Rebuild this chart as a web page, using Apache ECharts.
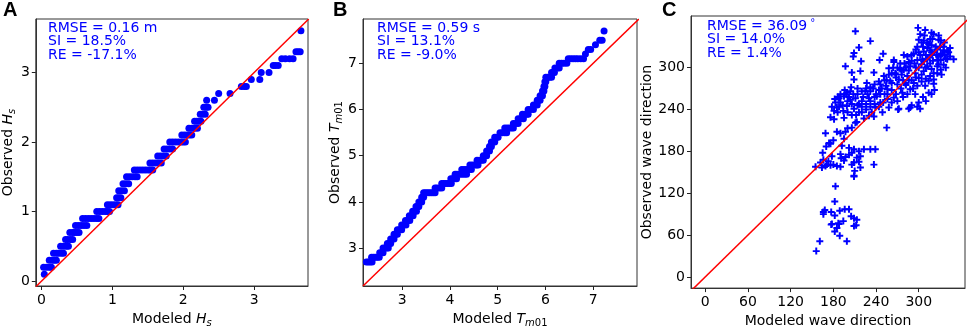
<!DOCTYPE html>
<html>
<head>
<meta charset="utf-8">
<script src="https://cdn.jsdelivr.net/npm/echarts@6/dist/echarts.min.js"></script>
<style>
  html, body { margin: 0; padding: 0; background: #fff; }
  #chart { width: 969px; height: 333px; }
</style>
</head>
<body>
<div id="chart"></div>
<script>
// panel A: Hs quantile pairs, observed levels and the modeled values at each level
const hsObserved = [0.1, 0.2, 0.3, 0.4, 0.5, 0.6, 0.7, 0.8, 0.9, 1.0, 1.1, 1.2, 1.3, 1.4, 1.5, 1.6, 1.7,
  1.8, 1.9, 2.0, 2.1, 2.2, 2.3, 2.4, 2.5, 2.6, 2.7, 2.8, 2.9, 3.0, 3.1, 3.2, 3.3, 3.6];
const hsModeled = [
  [0.04], [0.03, 0.07, 0.11, 0.14], [0.11, 0.15, 0.18, 0.21], [0.17, 0.21, 0.24, 0.28, 0.31],
  [0.27, 0.31, 0.35, 0.38], [0.34, 0.37, 0.41, 0.44], [0.40, 0.44, 0.47, 0.50, 0.53],
  [0.48, 0.52, 0.56, 0.60, 0.64], [0.58, 0.62, 0.66, 0.70, 0.74, 0.78, 0.81],
  [0.78, 0.82, 0.86, 0.90, 0.93, 0.96], [0.93, 0.97, 1.01, 1.05, 1.08], [1.06, 1.09, 1.12],
  [1.09, 1.13, 1.17], [1.15, 1.19, 1.23], [1.20, 1.24, 1.28, 1.32, 1.35],
  [1.31, 1.35, 1.39, 1.43, 1.47, 1.51, 1.54, 1.57], [1.53, 1.57, 1.61, 1.65, 1.69],
  [1.64, 1.68, 1.72, 1.76], [1.73, 1.77, 1.81, 1.85], [1.81, 1.85, 1.89, 1.93, 1.97, 2.00, 2.03],
  [1.98, 2.02, 2.06, 2.09, 2.12], [2.08, 2.12, 2.16, 2.20], [2.16, 2.19, 2.22, 2.25],
  [2.24, 2.27, 2.31], [2.29, 2.32, 2.35], [2.33, 2.44], [2.50, 2.66], [2.82, 2.86, 2.89],
  [2.96, 3.08], [3.10, 3.21], [3.27, 3.30, 3.34], [3.39, 3.44, 3.50, 3.55], [3.59, 3.62, 3.65], [3.66]
];

// panel B: Tm01 quantile pairs
const tmObserved = [2.7, 2.8, 2.9, 3.0, 3.1, 3.2, 3.3, 3.4, 3.5, 3.6, 3.7, 3.8, 3.9, 4.0, 4.1, 4.2, 4.3,
  4.4, 4.5, 4.6, 4.7, 4.8, 4.9, 5.0, 5.1, 5.2, 5.3, 5.4, 5.5, 5.6, 5.7, 5.8, 5.9, 6.0, 6.1, 6.2, 6.3,
  6.4, 6.5, 6.6, 6.7, 6.8, 6.9, 7.0, 7.1, 7.2, 7.3, 7.4, 7.5, 7.7];
const tmModeled = [
  [2.25, 2.29, 2.33, 2.37], [2.36, 2.40, 2.44, 2.48, 2.52], [2.53, 2.57, 2.60], [2.60, 2.64, 2.68, 2.71],
  [2.69, 2.73, 2.76], [2.76, 2.80, 2.83], [2.83, 2.87, 2.90], [2.90, 2.94, 2.99], [2.99, 3.03, 3.08],
  [3.07, 3.12, 3.16], [3.15, 3.19, 3.23], [3.22, 3.26, 3.30], [3.29, 3.33, 3.35], [3.35, 3.38, 3.41],
  [3.41, 3.45], [3.45, 3.49, 3.53, 3.57, 3.61, 3.65, 3.69], [3.69, 3.73, 3.78, 3.83],
  [3.83, 3.87, 3.91, 3.95, 3.99, 4.03], [4.02, 4.06, 4.10, 4.14], [4.11, 4.15, 4.20, 4.25, 4.30, 4.35],
  [4.25, 4.30, 4.35, 4.40, 4.45], [4.42, 4.47, 4.52, 4.56, 4.59], [4.57, 4.62, 4.66, 4.70],
  [4.70, 4.74, 4.77], [4.77, 4.80, 4.83], [4.83, 4.85, 4.87], [4.87, 4.91, 4.94], [4.94, 4.98, 5.01],
  [5.05, 5.10, 5.15, 5.19], [5.15, 5.20, 5.25, 5.29, 5.33], [5.33, 5.38, 5.43], [5.43, 5.48, 5.54],
  [5.52, 5.57, 5.61, 5.64], [5.64, 5.69, 5.75], [5.75, 5.79, 5.83], [5.83, 5.86, 5.89], [5.89, 5.92, 5.94],
  [5.94, 5.97], [5.97, 5.99], [5.99, 6.01], [6.01, 6.05, 6.09, 6.13], [6.13, 6.16, 6.19],
  [6.20, 6.25, 6.29], [6.29, 6.34, 6.39, 6.45], [6.48, 6.53, 6.58, 6.63, 6.68, 6.74, 6.80],
  [6.84], [6.90, 6.95], [7.05], [7.14, 7.19], [7.23]
];

// panel C: wave direction pairs [modeled, observed] in degrees
const dirPairs = [
  [209, 144], [183, 130], [182, 108], [168, 96], [166, 90], [166, 93], [177, 93], [182, 88], [189, 95],
  [196, 97], [202, 97], [205, 87], [209, 84], [213, 82], [212, 74], [209, 73], [194, 80], [187, 77],
  [178, 76], [185, 70], [182, 65], [189, 59], [161, 51], [199, 51], [156, 37], [177, 75], [188, 76],
  [155, 158], [162, 164], [166, 168], [171, 161], [176, 160], [169, 159], [180, 161], [185, 159],
  [190, 158], [164, 157], [173, 166], [178, 173], [170, 187], [176, 191], [180, 196], [185, 208],
  [197, 208], [195, 198], [190, 176], [191, 170], [195, 167], [202, 185], [209, 183], [216, 180],
  [223, 183], [232, 183], [239, 183], [206, 178], [213, 171], [202, 175], [216, 165], [209, 164],
  [218, 157], [210, 152], [209, 145], [237, 161], [206, 161], [218, 173], [197, 172], [192, 188],
  [206, 214], [211, 221], [255, 214], [271, 240], [237, 230], [286, 241], [298, 244],
  [169, 206], [174, 192], [165, 178], [190, 206], [200, 213], [213, 222],
  [211, 352], [232, 338], [216, 329], [209, 321], [208, 316], [219, 309], [197, 302], [206, 293],
  [218, 295], [209, 283], [237, 293], [250, 320], [245, 311], [227, 278], [232, 266], [225, 266],
  [204, 266], [199, 264], [195, 259], [190, 250], [183, 250], [181, 238], [176, 229], [181, 226],
  [195, 228], [186, 236], [209, 241], [216, 236], [220, 252], [211, 256], [204, 254], [216, 248],
  [199, 245], [185, 243],
  [299, 357], [309, 354], [302, 348], [319, 341], [331, 339], [307, 339], [314, 334], [298, 330],
  [324, 330], [335, 325], [293, 320], [307, 323], [319, 318], [331, 320], [338, 313], [349, 312],
  [326, 311], [316, 306], [307, 309], [298, 311], [284, 316], [274, 306], [265, 311], [279, 297],
  [288, 302], [267, 292], [258, 299], [251, 288], [260, 281], [246, 276], [272, 283], [284, 288],
  [295, 292], [307, 295], [321, 292], [321, 283], [331, 297], [335, 304], [314, 281], [309, 274],
  [321, 277], [314, 264], [295, 262], [300, 250], [288, 243], [302, 241], [272, 241], [288, 269],
  [277, 264], [265, 257], [256, 255], [246, 250], [239, 243], [234, 236], [223, 227], [230, 231],
  [249, 236], [258, 243], [241, 259], [256, 269], [270, 276], [281, 278], [293, 278], [300, 285],
  [321, 348], [335, 330], [340, 323], [331, 311], [312, 302],
  [228, 262], [236, 270], [244, 268], [252, 262], [262, 268], [268, 262], [275, 270], [282, 275],
  [290, 282], [296, 300], [304, 305], [310, 318], [316, 325], [322, 322], [328, 316], [312, 312],
  [302, 318], [290, 310], [282, 300], [276, 290], [268, 286], [262, 292], [255, 282], [248, 270],
  [240, 262], [232, 252], [226, 248], [220, 244], [214, 246], [206, 248], [200, 252], [193, 246],
  [188, 256], [196, 268], [205, 272], [214, 262], [222, 258], [230, 256], [238, 258], [246, 262],
  [254, 274], [262, 278], [268, 290], [276, 296], [286, 296], [294, 306], [300, 322], [306, 330],
  [312, 336], [318, 332], [326, 326], [330, 330], [336, 318], [342, 322], [344, 316], [326, 302],
  [318, 298], [304, 290], [296, 286], [286, 282], [278, 282], [290, 246], [310, 252], [318, 262],
  [322, 268], [306, 258], [333, 320], [316, 341], [328, 340], [265, 308], [279, 318],
  [300, 300], [305, 312], [310, 300], [315, 315], [320, 310], [325, 318], [328, 305], [318, 322],
  [312, 328], [304, 336], [296, 326], [290, 318], [286, 308], [280, 306], [274, 298], [270, 300],
  [264, 300], [258, 290], [252, 282], [244, 280], [238, 276], [232, 272], [226, 270], [220, 266],
  [214, 270], [208, 262], [202, 258], [196, 262], [190, 262], [186, 258], [182, 255], [178, 244],
  [188, 244], [194, 238], [200, 236], [206, 232], [212, 232], [220, 236], [226, 240], [232, 244],
  [238, 248], [244, 244], [250, 250], [256, 262], [262, 250], [270, 252], [278, 258], [284, 262],
  [292, 270], [298, 274], [304, 280], [310, 284], [316, 288], [326, 292], [332, 290], [338, 300],
  [340, 312], [344, 328], [336, 336], [328, 346], [318, 350], [308, 346], [300, 340]
];

const hsTicks = [0, 1, 2, 3];
const tmTicks = [3, 4, 5, 6, 7];
const dirTicks = [0, 60, 120, 180, 240, 300];

const statsA = ['RMSE = 0.16 m', 'SI = 18.5%', 'RE = -17.1%'];
const statsB = ['RMSE = 0.59 s', 'SI = 13.1%', 'RE = -9.0%'];
const statsC = ['RMSE = 36.09{d|°}', 'SI = 14.0%', 'RE = 1.4%'];

const FONT = 'DejaVu Sans';
const BLUE = '#0000ff';
const RED = '#ff0000';

function flatten(levels, values) {
  const out = [];
  levels.forEach((y, i) => values[i].forEach(x => out.push([x, y])));
  return out;
}

const nameStyle = {
  fontFamily: FONT, fontSize: 14, color: '#000',
  rich: {
    i: { fontFamily: FONT, fontSize: 14, fontStyle: 'italic', color: '#000' },
    s: { fontFamily: FONT, fontSize: 10, fontStyle: 'italic', color: '#000', padding: [8, 0, 0, 0] },
    n: { fontFamily: FONT, fontSize: 10, color: '#000', padding: [8, 0, 0, 0] }
  }
};

function xAxisOf(grid, min, max, ticks, name) {
  return {
    type: 'value', gridIndex: grid, min: min, max: max,
    name: name, nameLocation: 'middle', nameGap: 24, nameTextStyle: nameStyle,
    axisLine: { show: true, onZero: false, lineStyle: { color: '#333' } },
    axisTick: { show: true, length: 4, lineStyle: { color: '#222' }, customValues: ticks },
    axisLabel: { fontFamily: FONT, fontSize: 14, color: '#000', margin: 7, customValues: ticks },
    splitLine: { show: false }
  };
}

function yAxisOf(grid, min, max, ticks, name, gap) {
  return {
    type: 'value', gridIndex: grid, min: min, max: max,
    name: name, nameLocation: 'middle', nameRotate: 90, nameGap: gap, nameTextStyle: nameStyle,
    axisLine: { show: true, onZero: false, lineStyle: { color: '#333' } },
    axisTick: { show: true, length: 4, lineStyle: { color: '#222' }, customValues: ticks },
    axisLabel: { fontFamily: FONT, fontSize: 14, color: '#000', margin: 6, customValues: ticks },
    splitLine: { show: false }
  };
}

function oneToOne(idx, lo, hi) {
  return {
    type: 'line', xAxisIndex: idx, yAxisIndex: idx, data: [[lo, lo], [hi, hi]],
    showSymbol: false, symbol: 'none', silent: true, z: 5,
    lineStyle: { color: RED, width: 1.5 }
  };
}

function statsText(left, top, lines) {
  return {
    type: 'text', left: left, top: top, z: 10,
    style: {
      text: lines.join('\n'), fontFamily: FONT, fontSize: 14, lineHeight: 13.7, fill: BLUE,
      rich: { d: { fontFamily: FONT, fontSize: 10, fill: BLUE, padding: [0, 0, 6, 3] } }
    }
  };
}

function panelLetter(left, text) {
  return {
    type: 'text', left: left, top: 0,
    style: { text: text, fontFamily: 'Liberation Sans', fontWeight: 'bold', fontSize: 20, fill: '#000' }
  };
}

const plus = 'path://M0,3.6H10V6.4H0Z M3.6,0H6.4V10H3.6Z';

const chart = echarts.init(document.getElementById('chart'), null, { renderer: 'canvas' });
chart.setOption({
  animation: false,
  backgroundColor: '#fff',
  grid: [
    { left: 34, top: 19, width: 274, height: 274, show: true, borderColor: '#333', borderWidth: 1 },
    { left: 363, top: 19, width: 274, height: 274, show: true, borderColor: '#333', borderWidth: 1 },
    { left: 691, top: 16, width: 274, height: 279, show: true, borderColor: '#333', borderWidth: 1 }
  ],
  xAxis: [
    xAxisOf(0, -0.08, 3.76, hsTicks, 'Modeled {i|H}{s|s}'),
    xAxisOf(1, 2.18, 7.92, tmTicks, 'Modeled {i|T}{s|m}{n|01}'),
    xAxisOf(2, -20, 365, dirTicks, 'Modeled wave direction')
  ],
  yAxis: [
    yAxisOf(0, -0.07, 3.77, hsTicks, 'Observed {i|H}{s|s}', 17),
    yAxisOf(1, 2.18, 7.96, tmTicks, 'Observed {i|T}{s|m}{n|01}', 18),
    yAxisOf(2, -16, 374, dirTicks, 'Observed wave direction', 32)
  ],
  series: [
    {
      type: 'scatter', xAxisIndex: 0, yAxisIndex: 0, symbol: 'circle', symbolSize: 7,
      itemStyle: { color: BLUE, opacity: 1 }, data: flatten(hsObserved, hsModeled)
    },
    oneToOne(0, -0.08, 3.77),
    {
      type: 'scatter', xAxisIndex: 1, yAxisIndex: 1, symbol: 'circle', symbolSize: 7,
      itemStyle: { color: BLUE, opacity: 1 }, data: flatten(tmObserved, tmModeled)
    },
    oneToOne(1, 2.18, 7.96),
    {
      type: 'scatter', xAxisIndex: 2, yAxisIndex: 2, symbol: plus, symbolSize: 7,
      itemStyle: { color: BLUE, opacity: 1 }, data: dirPairs
    },
    oneToOne(2, -20, 374)
  ],
  graphic: [
    panelLetter(3, 'A'),
    panelLetter(333, 'B'),
    panelLetter(662, 'C'),
    statsText(48, 21, statsA),
    statsText(377, 21, statsB),
    statsText(707, 18, statsC)
  ]
});
</script>
</body>
</html>
